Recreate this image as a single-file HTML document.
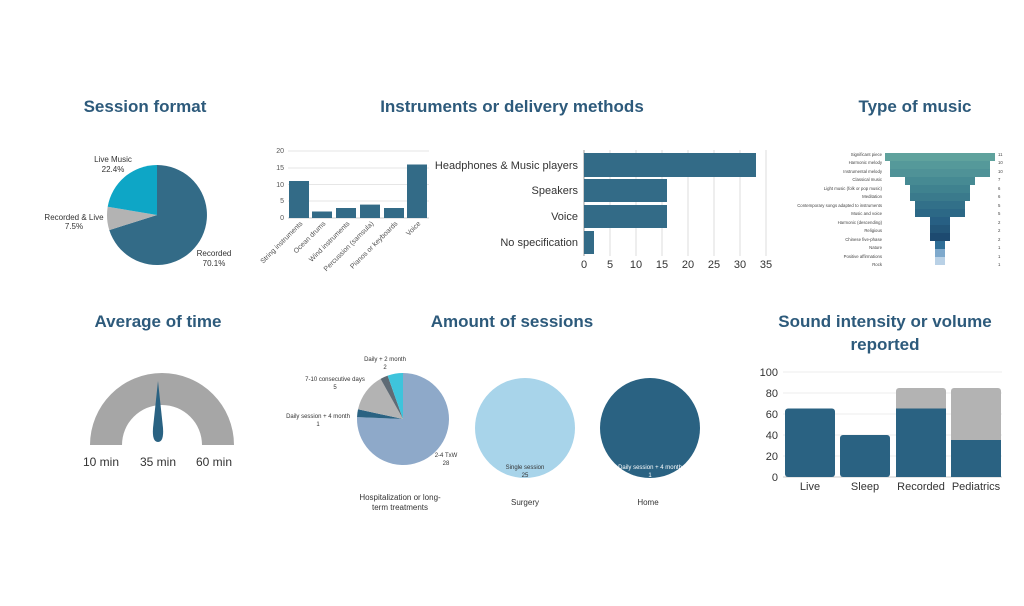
<!DOCTYPE html>
<html><head><meta charset="utf-8"><style>
html,body{margin:0;padding:0;background:#fff;}
svg{display:block;font-family:"Liberation Sans",sans-serif;}
.t{font-weight:bold;fill:#2d5a7b;font-size:17px;text-anchor:middle;}
.s{font-size:8px;fill:#333;}
.a{font-size:7px;fill:#555;}
</style></head><body>
<svg width="1024" height="606" viewBox="0 0 1024 606">
<rect width="1024" height="606" fill="#fff"/>
<text class="t" x="145" y="112">Session format</text>
<text class="t" x="512" y="112">Instruments or delivery methods</text>
<text class="t" x="915" y="112">Type of music</text>
<text class="t" x="158" y="327">Average of time</text>
<text class="t" x="512" y="327">Amount of sessions</text>
<text class="t" x="885" y="327">Sound intensity or volume</text>
<text class="t" x="885" y="350">reported</text>

<!-- session format pie -->
<path d="M157,215 L157,165 A50,50 0 1 1 109.3,230.1 Z" fill="#336b87"/>
<path d="M157,215 L109.3,230.1 A50,50 0 0 1 107.7,206.8 Z" fill="#b3b3b3"/>
<path d="M157,215 L107.7,206.8 A50,50 0 0 1 157,165 Z" fill="#0ea6c6"/>
<text class="s" x="113" y="162" text-anchor="middle">Live Music</text>
<text class="s" x="113" y="172" text-anchor="middle">22.4%</text>
<text class="s" x="74" y="220" text-anchor="middle">Recorded &amp; Live</text>
<text class="s" x="74" y="229" text-anchor="middle">7.5%</text>
<text class="s" x="214" y="256" text-anchor="middle">Recorded</text>
<text class="s" x="214" y="266" text-anchor="middle">70.1%</text>

<!-- instruments bar -->
<g stroke="#e6e6e6" stroke-width="1">
<line x1="288" y1="151" x2="429" y2="151"/><line x1="288" y1="168" x2="429" y2="168"/>
<line x1="288" y1="184.5" x2="429" y2="184.5"/><line x1="288" y1="201" x2="429" y2="201"/>
</g>
<line x1="288" y1="218" x2="429" y2="218" stroke="#ccc"/>
<g class="a" text-anchor="end"><text x="284" y="153">20</text><text x="284" y="170">15</text><text x="284" y="187">10</text><text x="284" y="203">5</text><text x="284" y="220">0</text></g>
<g fill="#336b87">
<rect x="289" y="181" width="20" height="37"/><rect x="312" y="211.5" width="20" height="6.5"/>
<rect x="336" y="208" width="20" height="10"/><rect x="360" y="204.6" width="20" height="13.4"/>
<rect x="384" y="208" width="20" height="10"/><rect x="407" y="164.5" width="20" height="53.5"/>
</g>
<g class="a" font-size="6.5" text-anchor="end">
<text transform="translate(303,224) rotate(-45)">String instruments</text>
<text transform="translate(326,224) rotate(-45)">Ocean drums</text>
<text transform="translate(350,224) rotate(-45)">Wind instruments</text>
<text transform="translate(374,224) rotate(-45)">Percussion (samsula)</text>
<text transform="translate(398,224) rotate(-45)">Pianos or keyboards</text>
<text transform="translate(421,224) rotate(-45)">Voice</text>
</g>

<!-- horizontal bars -->
<g stroke="#ddd"><line x1="610" y1="150" x2="610" y2="256"/><line x1="636" y1="150" x2="636" y2="256"/><line x1="662" y1="150" x2="662" y2="256"/><line x1="688" y1="150" x2="688" y2="256"/><line x1="714" y1="150" x2="714" y2="256"/><line x1="740" y1="150" x2="740" y2="256"/><line x1="766" y1="150" x2="766" y2="256"/></g>
<line x1="584" y1="150" x2="584" y2="256" stroke="#999"/>
<g fill="#336b87">
<rect x="584" y="153" width="172" height="24"/><rect x="584" y="179" width="83" height="23"/>
<rect x="584" y="205" width="83" height="23"/><rect x="584" y="231" width="10" height="23"/>
</g>
<g font-size="11" fill="#333" text-anchor="end"><text x="578" y="169">Headphones &amp; Music players</text><text x="578" y="194">Speakers</text><text x="578" y="220">Voice</text><text x="578" y="246">No specification</text></g>
<g font-size="11" fill="#333" text-anchor="middle"><text x="584" y="268">0</text><text x="610" y="268">5</text><text x="636" y="268">10</text><text x="662" y="268">15</text><text x="688" y="268">20</text><text x="714" y="268">25</text><text x="740" y="268">30</text><text x="766" y="268">35</text></g>

<!-- funnel -->
<g>
<rect x="885" y="153" width="110" height="8" fill="#5fa29d"/>
<rect x="890" y="161" width="100" height="8" fill="#55999a"/>
<rect x="890" y="169" width="100" height="8" fill="#4f9297"/>
<rect x="905" y="177" width="70" height="8" fill="#468a93"/>
<rect x="910" y="185" width="60" height="8" fill="#3f828f"/>
<rect x="910" y="193" width="60" height="8" fill="#3a7a8c"/>
<rect x="915" y="201" width="50" height="8" fill="#327089"/>
<rect x="915" y="209" width="50" height="8" fill="#2c6886"/>
<rect x="930" y="217" width="20" height="8" fill="#275f83"/>
<rect x="930" y="225" width="20" height="8" fill="#235679"/>
<rect x="930" y="233" width="20" height="8" fill="#1d4a70"/>
<rect x="935" y="241" width="10" height="8" fill="#2f6e97"/>
<rect x="935" y="249" width="10" height="8" fill="#7ea9cc"/>
<rect x="935" y="257" width="10" height="8" fill="#b9d1e6"/>
</g>
<g font-size="4.3" fill="#444" text-anchor="end">
<text x="882" y="156">Significant piece</text><text x="882" y="164">Harmonic melody</text><text x="882" y="173">Instrumental melody</text><text x="882" y="181">Classical music</text><text x="882" y="190">Light music (folk or pop music)</text><text x="882" y="198">Meditation</text><text x="882" y="207">Contemporary songs adapted to instruments</text><text x="882" y="215">Music and voice</text><text x="882" y="224">Harmonic (descending)</text><text x="882" y="232">Religious</text><text x="882" y="241">Chinese five-phase</text><text x="882" y="249">Nature</text><text x="882" y="258">Positive affirmations</text><text x="882" y="266">Rock</text>
</g>
<g font-size="4.3" fill="#444"><text x="998" y="156">11</text><text x="998" y="164">10</text><text x="998" y="173">10</text><text x="998" y="181">7</text><text x="998" y="190">6</text><text x="998" y="198">6</text><text x="998" y="207">5</text><text x="998" y="215">5</text><text x="998" y="224">2</text><text x="998" y="232">2</text><text x="998" y="241">2</text><text x="998" y="249">1</text><text x="998" y="258">1</text><text x="998" y="266">1</text></g>

<!-- gauge -->
<path d="M90,445 A72,72 0 0 1 234,445 L202,445 A40,40 0 0 0 122,445 Z" fill="#a6a6a6"/>
<path d="M158,381 L163,428 Q164,442 158,442 Q152,442 153,428 Z" fill="#2a6282"/>
<g font-size="12" fill="#333" text-anchor="middle"><text x="101" y="466">10 min</text><text x="158" y="466">35 min</text><text x="214" y="466">60 min</text></g>

<!-- sessions pies -->
<path d="M403,419 L403,373 A46,46 0 1 1 357.04,417.07 Z" fill="#8ea9c9"/>
<path d="M403,419 L357.04,417.07 A46,46 0 0 1 358.04,409.28 Z" fill="#2a6282"/>
<path d="M403,419 L358.04,409.28 A46,46 0 0 1 380.56,378.85 Z" fill="#b3b3b3"/>
<path d="M403,419 L380.56,378.85 A46,46 0 0 1 387.65,375.64 Z" fill="#5f6b75"/>
<path d="M403,419 L387.65,375.64 A46,46 0 0 1 403,373 Z" fill="#3ec4dc"/>
<circle cx="525" cy="428" r="50" fill="#a8d4ea"/>
<circle cx="650" cy="428" r="50" fill="#2a6282"/>
<g font-size="6" fill="#333" text-anchor="middle">
<text x="385" y="361">Daily + 2 month</text><text x="385" y="369">2</text>
<text x="335" y="381">7-10 consecutive days</text><text x="335" y="389">5</text>
<text x="318" y="418">Daily session + 4 month</text><text x="318" y="426">1</text>
<text x="446" y="457">2-4 TxW</text><text x="446" y="465">28</text>
<text x="525" y="469">Single session</text><text x="525" y="477">25</text>
<text x="650" y="469" fill="#fff">Daily session + 4 month</text><text x="650" y="477" fill="#fff">1</text>
</g>
<g font-size="8" fill="#333" text-anchor="middle">
<text x="400" y="500">Hospitalization or long-</text><text x="400" y="510">term treatments</text>
<text x="525" y="505">Surgery</text><text x="648" y="505">Home</text>
</g>

<!-- stacked bars -->
<g stroke="#ececec"><line x1="783" y1="372" x2="1002" y2="372"/><line x1="783" y1="393" x2="1002" y2="393"/><line x1="783" y1="414" x2="1002" y2="414"/><line x1="783" y1="435" x2="1002" y2="435"/><line x1="783" y1="456" x2="1002" y2="456"/></g>
<line x1="783" y1="477" x2="1002" y2="477" stroke="#ccc"/>
<g font-size="11" fill="#333" text-anchor="end"><text x="778" y="376">100</text><text x="778" y="397">80</text><text x="778" y="418">60</text><text x="778" y="439">40</text><text x="778" y="460">20</text><text x="778" y="481">0</text></g>
<rect x="896" y="388" width="50" height="25" rx="3" fill="#b3b3b3"/>
<rect x="951" y="388" width="50" height="55" rx="3" fill="#b3b3b3"/>
<g fill="#2a6282">
<rect x="785" y="408.5" width="50" height="68.5" rx="3"/>
<rect x="840" y="435" width="50" height="42" rx="3"/>
<rect x="896" y="408.5" width="50" height="68.5"/>
<rect x="951" y="440" width="50" height="37"/>
</g>
<g font-size="11" fill="#333" text-anchor="middle"><text x="810" y="490">Live</text><text x="865" y="490">Sleep</text><text x="921" y="490">Recorded</text><text x="976" y="490">Pediatrics</text></g>
</svg>
</body></html>
